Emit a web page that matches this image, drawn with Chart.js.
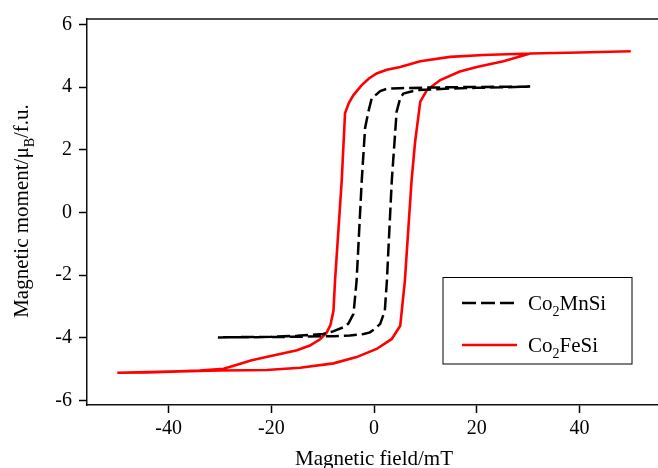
<!DOCTYPE html>
<html>
<head>
<meta charset="utf-8">
<script src="https://cdn.jsdelivr.net/npm/chart.js@4"></script>
<style>
  html, body { margin: 0; padding: 0; background: #fff; }
</style>
</head>
<body>
<canvas id="myChart" width="658" height="468"></canvas>
<script>
// Co2FeSi loop: branch coming down from +H, then branch going up from -H
let feDownH = [50, 40, 30.4, 21.3, 14.8, 9, 5.1, 2.5, 0.5, -1, -2.4, -4, -4.9, -5.65, -6.3, -7.6, -7.9, -8.5, -9.2, -10.5, -12.5, -15, -18.3, -21, -24, -27, -29.3, -34, -38, -44, -50];
let feDownM = [5.15, 5.11, 5.08, 5.03, 4.97, 4.83, 4.65, 4.56, 4.44, 4.28, 4.07, 3.75, 3.5, 3.17, 1.0, -2.19, -3.14, -3.6, -3.83, -4.05, -4.25, -4.4, -4.52, -4.62, -4.73, -4.88, -4.99, -5.05, -5.07, -5.1, -5.12];
let feUpH = [-50, -44, -38, -30, -25, -20.9, -14.4, -7.9, -3.4, 0.5, 3.45, 5.1, 5.4, 6.0, 7.3, 8.0, 9.0, 10.3, 12.9, 16.7, 20, 25.2, 30.4, 40, 50];
let feUpM = [-5.12, -5.11, -5.08, -5.05, -5.04, -5.03, -4.96, -4.82, -4.62, -4.36, -4.04, -3.62, -3.14, -2.19, 1.0, 2.26, 3.54, 3.91, 4.23, 4.5, 4.65, 4.83, 5.08, 5.11, 5.15];

// Co2MnSi loop
let mnDownH = [30.4, 20, 10, 5, 2.5, 1.2, 0.3, -0.45, -1.1, -1.75, -2.4, -3.4, -4.0, -5.0, -6.0, -8, -9.9, -15, -20, -30.4];
let mnDownM = [4.02, 4.01, 3.99, 3.97, 3.95, 3.88, 3.75, 3.65, 3.22, 2.69, 1.0, -2.19, -3.24, -3.55, -3.67, -3.8, -3.88, -3.94, -3.97, -3.99];
let mnUpH = [-30.4, -20, -14.4, -8, -4.7, -2, -0.8, 0.3, 1.2, 2.1, 2.5, 3.45, 4.4, 5.1, 5.7, 8.3, 15, 20, 30.4];
let mnUpM = [-3.99, -3.98, -3.97, -3.95, -3.93, -3.88, -3.83, -3.7, -3.56, -3.14, -2.19, 1.0, 3.22, 3.65, 3.8, 3.91, 3.96, 3.98, 4.02];

let xTicks = [-40, -20, 0, 20, 40];
let yTicks = [-6, -4, -2, 0, 2, 4, 6];

let labels = ['Co2MnSi', 'Co2FeSi'];
let colors = ['#000000', '#ff0000'];

let serif = "'Liberation Serif', 'Times New Roman', serif";

function loop(h1, m1, h2, m2) {
  let pts = h1.map((x, i) => ({ x: x, y: m1[i] }));
  return pts.concat(h2.map((x, i) => ({ x: x, y: m2[i] })));
}

// top frame line, axis titles with subscripts, boxed legend
let extras = {
  id: 'extras',
  afterDraw(chart) {
    let ctx = chart.ctx;
    let a = chart.chartArea;
    ctx.save();
    ctx.strokeStyle = '#111';
    ctx.lineWidth = 1.5;
    ctx.beginPath();
    ctx.moveTo(a.left, a.top);
    ctx.lineTo(a.right, a.top);
    ctx.stroke();

    ctx.fillStyle = '#000';
    ctx.textBaseline = 'alphabetic';
    let big = '21px ' + serif;
    let small = '14px ' + serif;

    // x title
    ctx.font = big;
    ctx.textAlign = 'center';
    ctx.fillText('Magnetic field/mT', 374, 465);

    // y title, rotated
    ctx.textAlign = 'left';
    ctx.font = big;
    let p1 = 'Magnetic moment/\u03bc', p3 = '/f.u.';
    let w1 = ctx.measureText(p1).width, w3 = ctx.measureText(p3).width;
    ctx.font = small;
    let w2 = ctx.measureText('B').width;
    let total = w1 + w2 + w3;
    ctx.translate(28, 211);
    ctx.rotate(-Math.PI / 2);
    let sx = -total / 2;
    ctx.font = big;
    ctx.fillText(p1, sx, 0);
    ctx.font = small;
    ctx.fillText('B', sx + w1, 6);
    ctx.font = big;
    ctx.fillText(p3, sx + w1 + w2, 0);
    ctx.setTransform(1, 0, 0, 1, 0, 0);

    // legend
    ctx.strokeStyle = '#000';
    ctx.lineWidth = 1;
    ctx.strokeRect(443, 277.5, 189, 86.5);
    let rows = [303, 345];
    labels.forEach((lab, i) => {
      let y = rows[i];
      ctx.beginPath();
      ctx.strokeStyle = colors[i];
      ctx.lineWidth = 2.5;
      ctx.setLineDash(i === 0 ? [14, 5] : []);
      ctx.moveTo(462, y);
      ctx.lineTo(517, y);
      ctx.stroke();
      ctx.setLineDash([]);
      let base = y + 7;
      let pre = 'Co', post = lab.slice(3);
      ctx.font = big;
      ctx.fillText(pre, 528, base);
      let wp = ctx.measureText(pre).width;
      ctx.font = small;
      ctx.fillText('2', 528 + wp, base + 6);
      let ws = ctx.measureText('2').width;
      ctx.font = big;
      ctx.fillText(post, 528 + wp + ws, base);
    });
    ctx.restore();
  }
};

let myChart = document.getElementById('myChart').getContext('2d');

let chart = new Chart(myChart, {
  type: 'scatter',
  data: {
    datasets: [
      {
        label: labels[0],
        data: loop(mnDownH, mnDownM, mnUpH, mnUpM),
        showLine: true,
        borderColor: colors[0],
        borderWidth: 2.5,
        borderDash: [13, 5],
        pointRadius: 0,
        tension: 0
      },
      {
        label: labels[1],
        data: loop(feDownH, feDownM, feUpH, feUpM),
        showLine: true,
        borderColor: colors[1],
        borderWidth: 2.6,
        pointRadius: 0,
        tension: 0
      }
    ]
  },
  options: {
    responsive: false,
    animation: false,
    layout: { padding: { top: 17, right: 0, left: 0, bottom: 0 } },
    plugins: {
      legend: { display: false },
      tooltip: { enabled: false }
    },
    scales: {
      x: {
        type: 'linear',
        min: -55.9,
        max: 55.3,
        afterBuildTicks: s => { s.ticks = xTicks.map(v => ({ value: v })); },
        afterFit: s => { s.height = 63; },
        grid: { drawOnChartArea: false, tickLength: 8, color: '#000', tickWidth: 1.5 },
        border: { color: '#111', width: 1.5 },
        ticks: { color: '#000', font: { family: serif, size: 20 }, padding: 4, maxRotation: 0 }
      },
      y: {
        type: 'linear',
        min: -6.15,
        max: 6.18,
        afterBuildTicks: s => { s.ticks = yTicks.map(v => ({ value: v })); },
        afterFit: s => { s.width = 87; },
        grid: { drawOnChartArea: false, tickLength: 8, color: '#000', tickWidth: 1.5 },
        border: { color: '#111', width: 1.5 },
        ticks: { color: '#000', font: { family: serif, size: 20 }, padding: 7 }
      }
    }
  },
  plugins: [extras]
});
</script>
</body>
</html>
